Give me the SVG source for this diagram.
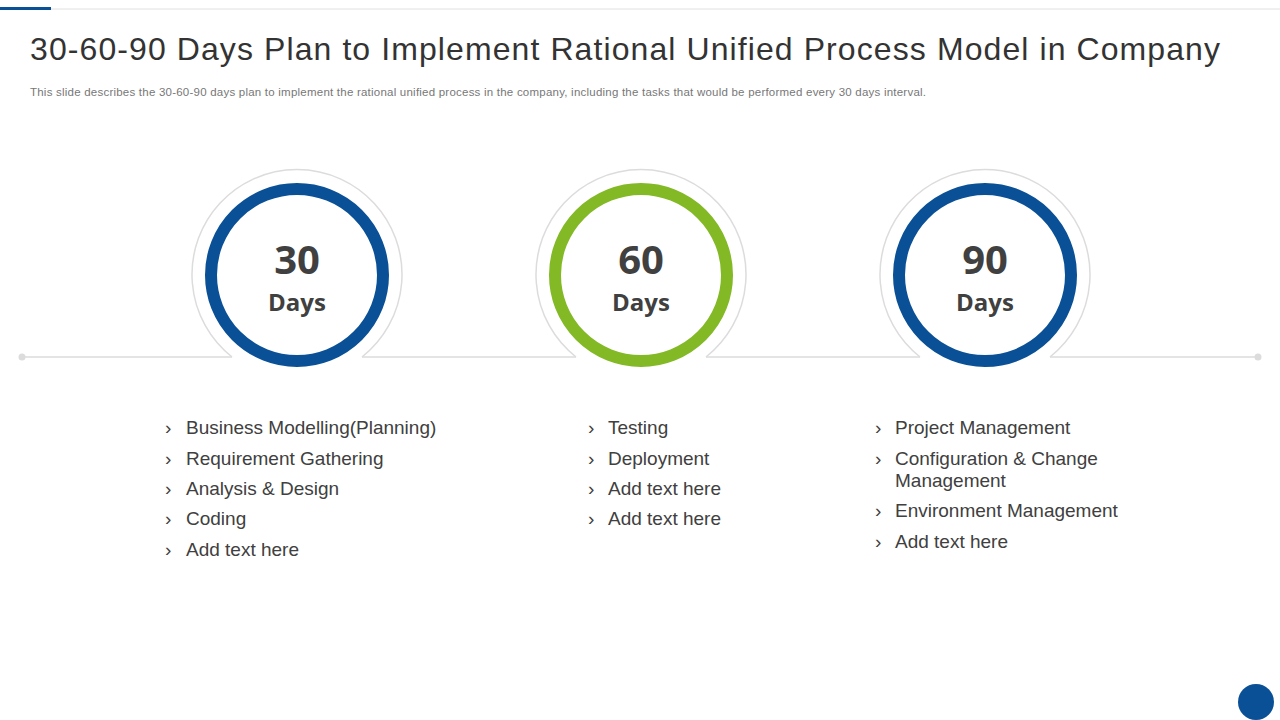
<svg xmlns="http://www.w3.org/2000/svg" width="1280" height="720" viewBox="0 0 1280 720">
<style>
.t{font-family:"Liberation Sans",Arial,sans-serif}
.g{fill:none;stroke:#dcdcdc;stroke-width:1.5}
.num{font-family:"Open Sans","Liberation Sans",sans-serif;font-weight:bold;fill:#404040;text-anchor:middle}
.li{font-family:"Liberation Sans",Arial,sans-serif;font-size:19px;fill:#404040}
</style>
<rect width="1280" height="720" fill="#fff"/>
<line x1="0" y1="9" x2="1280" y2="9" stroke="#e0e0e0" stroke-width="1"/>
<rect x="0" y="7" width="51" height="3" fill="#0a5096"/>
<text class="t" x="30" y="60" font-size="32" fill="#333" textLength="1190" lengthAdjust="spacing">30-60-90 Days Plan to Implement Rational Unified Process Model in Company</text>
<text class="t" x="30" y="96" font-size="11.5" fill="#777" textLength="896" lengthAdjust="spacing">This slide describes the 30-60-90 days plan to implement the rational unified process in the company, including the tasks that would be performed every 30 days interval.</text>
<g id="connectors">
<path class="g" d="M22 357H232M362 357H576M706 357H920M1050 357H1258"/>
<circle cx="22" cy="357" r="3.5" fill="#dcdcdc"/>
<circle cx="1258" cy="357" r="3.5" fill="#dcdcdc"/>
</g>
<g id="n30">
<path class="g" d="M232 357A105 105 0 1 1 362 357"/>
<circle cx="297" cy="275" r="86" fill="#fff" stroke="#0a5096" stroke-width="12"/>
<text class="num" x="297" y="274" font-size="40">30</text>
<text class="num" x="297" y="311" font-size="24">Days</text>
</g>
<g id="n60">
<path class="g" d="M576 357A105 105 0 1 1 706 357"/>
<circle cx="641" cy="275" r="86" fill="#fff" stroke="#82b925" stroke-width="12"/>
<text class="num" x="641" y="274" font-size="40">60</text>
<text class="num" x="641" y="311" font-size="24">Days</text>
</g>
<g id="n90">
<path class="g" d="M920 357A105 105 0 1 1 1050 357"/>
<circle cx="985" cy="275" r="86" fill="#fff" stroke="#0a5096" stroke-width="12"/>
<text class="num" x="985" y="274" font-size="40">90</text>
<text class="num" x="985" y="311" font-size="24">Days</text>
</g>
<g id="list30" class="li">
<text x="165" y="434">›</text><text x="186" y="434">Business Modelling(Planning)</text>
<text x="165" y="465">›</text><text x="186" y="465">Requirement Gathering</text>
<text x="165" y="495">›</text><text x="186" y="495">Analysis &amp; Design</text>
<text x="165" y="525">›</text><text x="186" y="525">Coding</text>
<text x="165" y="556">›</text><text x="186" y="556">Add text here</text>
</g>
<g id="list60" class="li">
<text x="588" y="434">›</text><text x="608" y="434">Testing</text>
<text x="588" y="465">›</text><text x="608" y="465">Deployment</text>
<text x="588" y="495">›</text><text x="608" y="495">Add text here</text>
<text x="588" y="525">›</text><text x="608" y="525">Add text here</text>
</g>
<g id="list90" class="li">
<text x="875" y="434">›</text><text x="895" y="434">Project Management</text>
<text x="875" y="465">›</text><text x="895" y="465">Configuration &amp; Change</text>
<text x="895" y="487">Management</text>
<text x="875" y="517">›</text><text x="895" y="517">Environment Management</text>
<text x="875" y="548">›</text><text x="895" y="548">Add text here</text>
</g>
<circle cx="1256" cy="702" r="18" fill="#0a5096"/>
</svg>
